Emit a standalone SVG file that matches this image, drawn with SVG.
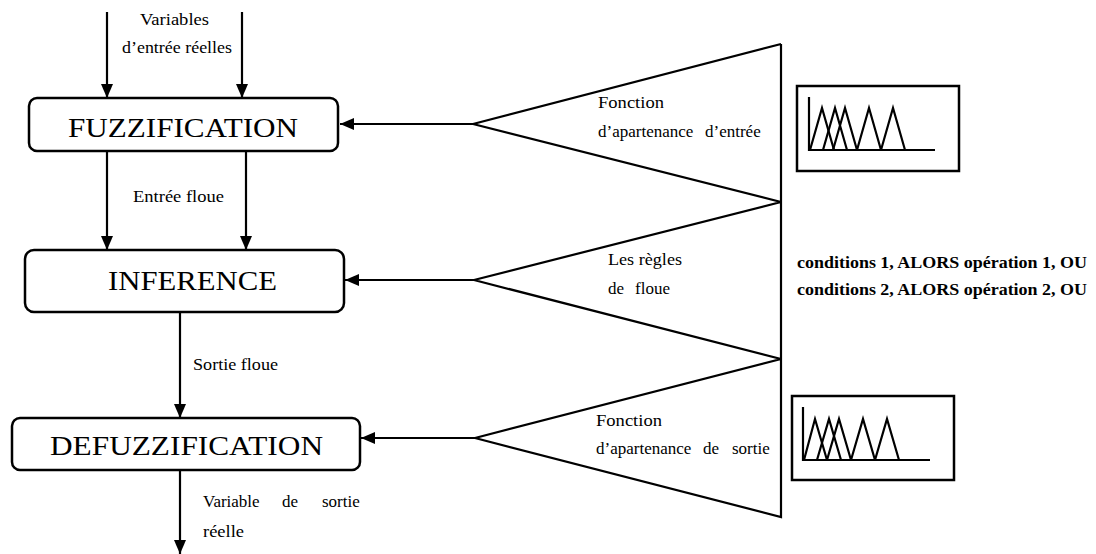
<svg xmlns="http://www.w3.org/2000/svg" width="1096" height="554" viewBox="0 0 1096 554">
  <style>
    .box { fill: #fff; stroke: #000; stroke-width: 2.5; }
    .title { font-size: 27px; fill: #000; }
    .lbl { font-size: 17px; fill: #000; }
    .rule { font-size: 16px; font-weight: bold; fill: #000; }
    .wire { fill: none; stroke: #000; stroke-width: 2.2; }
    .arrow { fill: none; stroke: #000; stroke-width: 2.2; marker-end: url(#head); }
    .mf { fill: none; stroke: #000; stroke-width: 2.2; stroke-linejoin: miter; }
  </style>
  <defs>
    <marker id="head" markerUnits="userSpaceOnUse" markerWidth="14" markerHeight="14" viewBox="0 0 14 14" refX="14" refY="7" orient="auto">
      <path d="M0,1 L14,7 L0,13 Z" fill="#000"/>
    </marker>
  </defs>

  <rect width="1096" height="554" fill="#fff"/>

  <!-- connectors -->
  <g id="connectors">
    <line class="arrow" x1="107" y1="12" x2="107" y2="98"/>
    <line class="arrow" x1="242" y1="12" x2="242" y2="98"/>
    <line class="arrow" x1="107" y1="151" x2="107" y2="250"/>
    <line class="arrow" x1="246" y1="151" x2="246" y2="250"/>
    <line class="arrow" x1="180" y1="312" x2="180" y2="418"/>
    <line class="arrow" x1="180" y1="470" x2="180" y2="554"/>
    <line class="arrow" x1="473" y1="124" x2="340" y2="124"/>
    <line class="arrow" x1="474" y1="280" x2="345" y2="280"/>
    <line class="arrow" x1="475" y1="438" x2="361" y2="438"/>
  </g>

  <!-- all text set in a Times-metric serif -->
  <g font-family="Liberation Serif, Times New Roman, serif">
  <!-- process blocks -->
  <g id="fuzzification">
    <rect class="box" x="29" y="98" width="309" height="53" rx="8"/>
    <text class="title" x="68" y="137" textLength="230" lengthAdjust="spacingAndGlyphs">FUZZIFICATION</text>
  </g>
  <g id="inference">
    <rect class="box" x="25" y="250" width="319" height="62" rx="9"/>
    <text class="title" x="108" y="290" textLength="169" lengthAdjust="spacingAndGlyphs">INFERENCE</text>
  </g>
  <g id="defuzzification">
    <rect class="box" x="12" y="418" width="348" height="52" rx="8"/>
    <text class="title" x="50" y="455" textLength="273" lengthAdjust="spacingAndGlyphs">DEFUZZIFICATION</text>
  </g>

  <!-- flow labels -->
  <g id="flow-labels">
    <text class="lbl" x="140" y="25" textLength="69" lengthAdjust="spacingAndGlyphs">Variables</text>
    <text class="lbl" x="122" y="53" textLength="110" lengthAdjust="spacingAndGlyphs">d’entrée réelles</text>
    <text class="lbl" x="133" y="202" textLength="91" lengthAdjust="spacingAndGlyphs">Entrée floue</text>
    <text class="lbl" x="193" y="370" textLength="85" lengthAdjust="spacingAndGlyphs">Sortie floue</text>
    <text class="lbl" y="507"><tspan x="203">Variable</tspan><tspan x="282">de</tspan><tspan x="322">sortie</tspan></text>
    <text class="lbl" x="203" y="537" textLength="41" lengthAdjust="spacingAndGlyphs">réelle</text>
  </g>

  <!-- knowledge base: three fans sharing a vertical edge -->
  <g id="knowledge-base">
    <polyline class="wire" points="781,44 473,124 781,202 474,280 781,359 475,438 781,517 781,44"/>
    <text class="lbl" x="598" y="108" textLength="66" lengthAdjust="spacingAndGlyphs">Fonction</text>
    <text class="lbl" y="137"><tspan x="598">d’apartenance</tspan><tspan x="705">d’entrée</tspan></text>
    <text class="lbl" x="608" y="265" textLength="74" lengthAdjust="spacingAndGlyphs">Les règles</text>
    <text class="lbl" y="294"><tspan x="608">de</tspan><tspan x="635">floue</tspan></text>
    <text class="lbl" x="596" y="426" textLength="66" lengthAdjust="spacingAndGlyphs">Fonction</text>
    <text class="lbl" y="454"><tspan x="596">d’apartenance</tspan><tspan x="703">de</tspan><tspan x="732">sortie</tspan></text>
  </g>

  <!-- rule base -->
  <g id="rules">
    <text class="rule" x="797" y="268" textLength="290" lengthAdjust="spacingAndGlyphs">conditions 1, ALORS opération 1, OU</text>
    <text class="rule" x="797" y="295" textLength="290" lengthAdjust="spacingAndGlyphs">conditions 2, ALORS opération 2, OU</text>
  </g>
  </g>

  <!-- input membership functions -->
  <g id="mf-input">
    <rect x="797" y="86" width="162" height="85" fill="none" stroke="#000" stroke-width="2.5"/>
    <polyline class="mf" points="809,97 809,150 935,150"/>
    <polyline class="mf" points="810,150 822,108 834,150"/>
    <polyline class="mf" points="823,150 835,108 847,150"/>
    <polyline class="mf" points="833,150 845,108 857,150"/>
    <polyline class="mf" points="857,150 869,108 881,150"/>
    <polyline class="mf" points="881,150 893,108 905,150"/>
  </g>

  <!-- output membership functions -->
  <g id="mf-output">
    <rect x="792" y="396" width="162" height="84" fill="none" stroke="#000" stroke-width="2.5"/>
    <polyline class="mf" points="803,407 803,460 930,460"/>
    <polyline class="mf" points="804,460 815,419 827,460"/>
    <polyline class="mf" points="817,460 829,419 841,460"/>
    <polyline class="mf" points="827,460 839,419 851,460"/>
    <polyline class="mf" points="851,460 863,419 875,460"/>
    <polyline class="mf" points="875,460 887,419 899,460"/>
  </g>
</svg>
